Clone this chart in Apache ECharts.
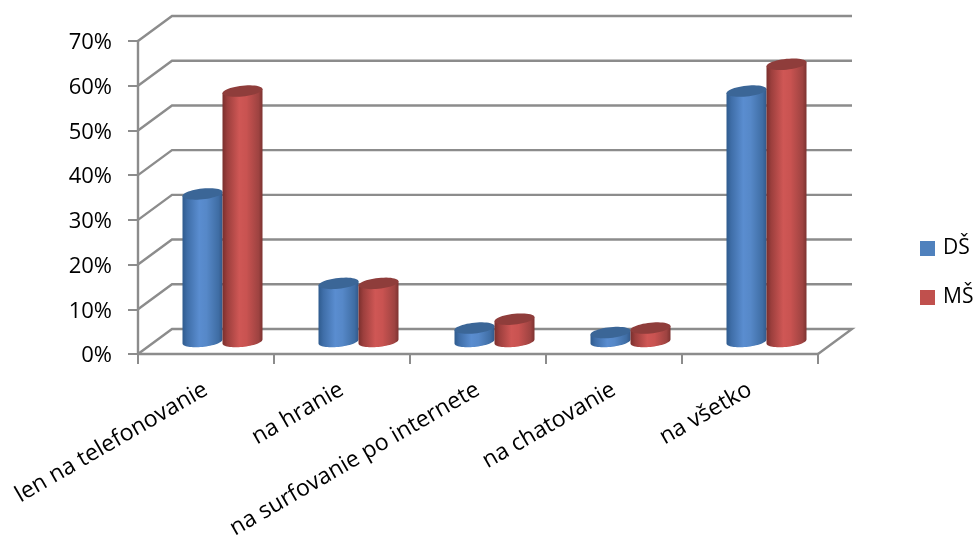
<!DOCTYPE html>
<html>
<head>
<meta charset="utf-8">
<style>html,body{margin:0;padding:0;background:#fff}#chart{width:979px;height:535px}</style>
<script src="https://cdn.jsdelivr.net/npm/echarts@6/dist/echarts.min.js"></script>
</head>
<body>
<div id="chart"></div>
<script>
const categories = ['len na telefonovanie', 'na hranie', 'na surfovanie po internete', 'na chatovanie', 'na všetko'];
const dsValues = [33, 13, 3, 2, 56];
const msValues = [56, 13, 5, 3, 62];
const percentTicks = [0, 10, 20, 30, 40, 50, 60, 70];

const FONT = '"Open Sans", sans-serif';
const AXIS_GREY = '#8c8c8c';

// Oblique depth of the floor and of the back wall, in pixels.
const DEPTH_X = 34;
const DEPTH_Y = -25;
const RADIUS = 20;
const ELLIPSE_B = 5.4;
const SHEAR = 2;

function ellipseArc(cx, cy, from, to, steps) {
  const pts = [];
  for (let i = 0; i <= steps; i++) {
    const t = from + (to - from) * i / steps;
    pts.push([cx + RADIUS * Math.cos(t),
              cy + ELLIPSE_B * Math.sin(t) - SHEAR * Math.cos(t)]);
  }
  return pts;
}

function cylinder(side, stops, topColor) {
  return function (params, api) {
    const idx = api.value(0);
    const base = api.coord([idx, 0]);
    const head = api.coord([idx, api.value(1)]);
    const cx = base[0] + DEPTH_X / 2 + side * RADIUS - 0.5;
    const yBase = base[1] + DEPTH_Y / 2;
    const yTop = head[1] + DEPTH_Y / 2;
    const rim = ellipseArc(cx, yBase, 0, Math.PI, 32);
    const body = [[cx + RADIUS, yTop - SHEAR]].concat(rim, [[cx - RADIUS, yTop + SHEAR]]);
    return {
      type: 'group',
      children: [
        {
          type: 'polygon',
          shape: { points: body },
          style: { fill: new echarts.graphic.LinearGradient(0, 0, 1, 0, stops) }
        },
        {
          type: 'polygon',
          shape: { points: ellipseArc(cx, yTop, 0, Math.PI * 2, 48) },
          style: { fill: topColor }
        }
      ]
    };
  };
}

// Back wall lines with the diagonals that join them to the value axis.
function wallLine(params, api) {
  const v = api.value(1);
  const left = api.coord([0, v]);
  const right = api.coord([categories.length - 1, v]);
  const size = api.size([1, 0])[0];
  const x0 = left[0] - size / 2;
  const x1 = right[0] + size / 2;
  const pts = [[x0, left[1]], [x0 + DEPTH_X, left[1] + DEPTH_Y], [x1 + DEPTH_X, left[1] + DEPTH_Y]];
  if (v === 0) pts.push([x1, left[1]]);
  return {
    type: 'polyline',
    shape: { points: pts },
    style: { stroke: AXIS_GREY, lineWidth: 2.4, fill: null }
  };
}

const blueStops = [
  { offset: 0, color: '#2f5b8e' }, { offset: 0.12, color: '#3f6ea8' },
  { offset: 0.42, color: '#5a8dd0' }, { offset: 0.6, color: '#5688c8' },
  { offset: 0.9, color: '#3f6da4' }, { offset: 1, color: '#33598a' }
];
const redStops = [
  { offset: 0, color: '#7a2f2d' }, { offset: 0.12, color: '#9c3f3d' },
  { offset: 0.42, color: '#cf5755' }, { offset: 0.6, color: '#c95351' },
  { offset: 0.9, color: '#9e4341' }, { offset: 1, color: '#7d3331' }
];

const chart = echarts.init(document.getElementById('chart'));
chart.setOption({
  animation: false,
  backgroundColor: '#fff',
  textStyle: { fontFamily: FONT },
  grid: { left: 138, right: 161, top: 41, bottom: 181, outerBoundsMode: 'none' },
  legend: {
    orient: 'vertical',
    left: 920,
    top: 238,
    padding: 0,
    itemWidth: 15,
    itemHeight: 15,
    itemGap: 28,
    icon: 'rect',
    data: ['DŠ', 'MŠ'],
    textStyle: { fontFamily: FONT, fontSize: 21, color: '#000', padding: [0, 0, 0, 3] }
  },
  xAxis: {
    type: 'category',
    data: categories,
    axisLine: { lineStyle: { color: AXIS_GREY, width: 2.4 } },
    axisTick: { show: true, length: 10, lineStyle: { color: AXIS_GREY, width: 2 } },
    axisLabel: { interval: 0, rotate: 30, margin: 34, fontFamily: FONT, fontSize: 23, color: '#000' }
  },
  yAxis: {
    type: 'value',
    min: 0,
    max: 70,
    interval: 10,
    splitLine: { show: false },
    axisLine: { show: true, lineStyle: { color: AXIS_GREY, width: 2.4 } },
    axisTick: { show: true, length: 10, lineStyle: { color: AXIS_GREY, width: 2 } },
    axisLabel: {
      formatter: '{pct|{value}%}',
      margin: 26,
      rich: { pct: { fontFamily: FONT, fontSize: 22, color: '#000', padding: [4, 0, 0, 0] } }
    }
  },
  series: [
    {
      name: 'wall',
      type: 'custom',
      clip: false,
      silent: true,
      z: 1,
      renderItem: wallLine,
      data: percentTicks.map(v => [0, v])
    },
    {
      name: 'DŠ',
      type: 'custom',
      clip: false,
      z: 2,
      itemStyle: { color: '#4f81bd' },
      renderItem: cylinder(-1, blueStops, '#3b6697'),
      data: dsValues.map((v, i) => [i, v])
    },
    {
      name: 'MŠ',
      type: 'custom',
      clip: false,
      z: 3,
      itemStyle: { color: '#c0504d' },
      renderItem: cylinder(1, redStops, '#8f3d3b'),
      data: msValues.map((v, i) => [i, v])
    }
  ]
});
</script>
</body>
</html>
